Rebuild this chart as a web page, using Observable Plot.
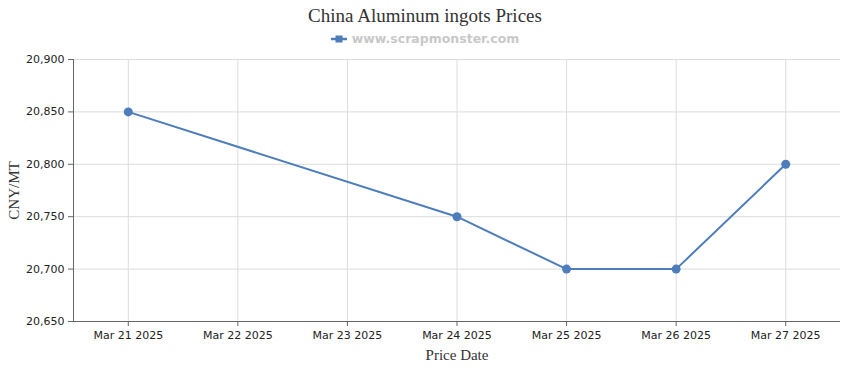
<!DOCTYPE html>
<html>
<head>
<meta charset="utf-8">
<script src="https://cdn.jsdelivr.net/npm/d3@7"></script>
<script src="https://cdn.jsdelivr.net/npm/@observablehq/plot@0.6"></script>
<style>
  html, body { margin: 0; padding: 0; background: #fff; }
  #wrap { position: relative; width: 850px; height: 370px; overflow: hidden; }
  #title { position: absolute; left: 0; width: 850px; top: 5px; text-align: center;
    font-family: "Liberation Serif", "Times New Roman", serif; font-size: 19px; color: #333; }
  #legend { position: absolute; left: 0; width: 850px; top: 31px; text-align: center;
    font-family: "DejaVu Sans", Verdana, sans-serif; font-size: 12.5px; font-weight: bold; color: #c8c8c8; }
  #legend svg { vertical-align: -1px; margin-right: 5px; }
  #chart { position: absolute; left: 0; top: 0; }
</style>
</head>
<body>
<div id="wrap">
  <div id="chart"></div>
  <div id="title">China Aluminum ingots Prices</div>
  <div id="legend"><svg width="16" height="10"><line x1="0" y1="5" x2="16" y2="5" stroke="#4d7ebb" stroke-width="2.5"/><rect x="4.5" y="1.5" width="7" height="7" fill="#4d7ebb"/></svg>www.scrapmonster.com</div>
</div>
<script>
const dates = ["2025-03-21", "2025-03-24", "2025-03-25", "2025-03-26", "2025-03-27"];
const prices = [20850, 20750, 20700, 20700, 20800];
const tickDates = ["2025-03-21", "2025-03-22", "2025-03-23", "2025-03-24", "2025-03-25", "2025-03-26", "2025-03-27"];
const yTicks = [20650, 20700, 20750, 20800, 20850, 20900];

const data = dates.map((d, i) => ({date: new Date(d + "T00:00:00Z"), price: prices[i]}));
const xt = tickDates.map(d => new Date(d + "T00:00:00Z"));
const half = 12 * 3600 * 1000;
const xDomain = [new Date(+xt[0] - half), new Date(+xt[xt.length - 1] + half)];
const fmt = d3.utcFormat("%b %d %Y");
const color = "#4d7ebb";
const axisColor = "#666";

const chart = Plot.plot({
  width: 850,
  height: 370,
  marginLeft: 73,
  marginRight: 10,
  marginTop: 59,
  marginBottom: 49,
  style: {fontFamily: "DejaVu Sans, Verdana, sans-serif", fontSize: "11px", color: "#222", background: "transparent"},
  x: {type: "utc", domain: xDomain},
  y: {domain: [20650, 20900]},
  marks: [
    Plot.gridX(xt, {stroke: "#dcdcdc", strokeOpacity: 1}),
    Plot.gridY(yTicks, {stroke: "#dcdcdc", strokeOpacity: 1}),
    Plot.ruleY([20650], {stroke: axisColor, strokeWidth: 1}),
    Plot.ruleX([xDomain[0]], {stroke: axisColor, strokeWidth: 1}),
    Plot.axisX(xt, {tickSize: 5, tickPadding: 5, stroke: axisColor, tickFormat: fmt, fontSize: 11, fill: "#222", label: null}),
    Plot.axisY(yTicks, {tickSize: 5, tickPadding: 4, stroke: axisColor, tickFormat: d3.format(","), fontSize: 11, fill: "#222", label: null}),
    Plot.line(data, {x: "date", y: "price", stroke: color, strokeWidth: 2}),
    Plot.dot(data, {x: "date", y: "price", r: 4.5, fill: color, stroke: color, strokeWidth: 0}),
    Plot.text(["Price Date"], {frameAnchor: "bottom", dy: 38, fontFamily: "Liberation Serif, Times New Roman, serif", fontSize: 15, fill: "#333"}),
    Plot.text(["CNY/MT"], {frameAnchor: "left", dx: -59, rotate: -90, textAnchor: "middle", fontFamily: "Liberation Serif, Times New Roman, serif", fontSize: 15, fill: "#333"})
  ]
});
document.getElementById("chart").appendChild(chart);
</script>
</body>
</html>
